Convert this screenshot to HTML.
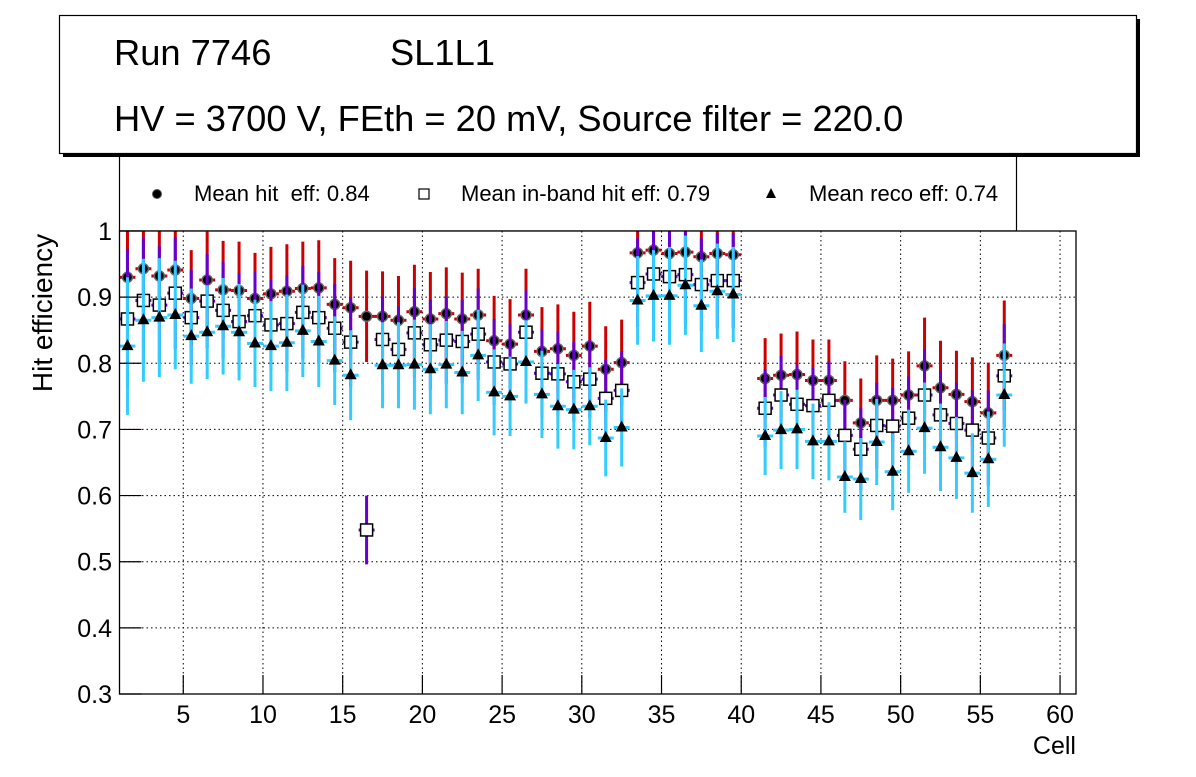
<!DOCTYPE html>
<html><head><meta charset="utf-8"><style>
body{margin:0;background:#fff;}
svg text{font-family:"Liberation Sans",sans-serif;fill:#000;white-space:pre;}
</style></head><body>
<svg id="chart" width="1196" height="772" viewBox="0 0 1196 772" xmlns="http://www.w3.org/2000/svg">
<rect x="0" y="0" width="1196" height="772" fill="#fff"/>
<g id="legend">
<rect x="119.5" y="140" width="897" height="91" fill="#fff" stroke="#000" stroke-width="1.2"/>
<g><circle cx="157" cy="194" r="4.5" fill="#000" stroke="#555" stroke-width="1"/><text x="194" y="201" font-size="22">Mean hit&#160; eff: 0.84</text></g>
<g><rect x="419" y="189" width="10" height="10" fill="#fff" stroke="#000" stroke-width="1.2"/><text x="461" y="201" font-size="22">Mean in-band hit eff: 0.79</text></g>
<g><polygon points="771,188 776,198 766,198" fill="#000"/><text x="809" y="201" font-size="22">Mean reco eff: 0.74</text></g>
</g>
<g>
<rect x="63" y="19" width="1077" height="138" fill="#000"/>
<rect x="59.5" y="15.5" width="1077" height="138" fill="#fff" stroke="#000" stroke-width="1.2"/>
<text x="114" y="65" font-size="36.3">Run 7746</text>
<text x="390" y="65" font-size="36.3">SL1L1</text>
<text x="114" y="131" font-size="36.3">HV = 3700 V, FEth = 20 mV, Source filter = 220.0</text>
</g>
<rect x="119.5" y="231" width="956.5" height="463" fill="#fff"/>
<g id="grid"></g>
<g id="marks"></g>
<rect x="119.5" y="231" width="956.5" height="463" fill="none" stroke="#000" stroke-width="1.3"/>
<g id="axes"></g>
<text x="1076" y="754" font-size="25" text-anchor="end">Cell</text>
<text transform="translate(52,313) rotate(-90)" font-size="28" text-anchor="middle">Hit efficiency</text>
</svg>
<script>
const cells = [1.5,2.5,3.5,4.5,5.5,6.5,7.5,8.5,9.5,10.5,11.5,12.5,13.5,14.5,15.5,16.5,17.5,18.5,19.5,20.5,21.5,22.5,23.5,24.5,25.5,26.5,27.5,28.5,29.5,30.5,31.5,32.5,33.5,34.5,35.5,36.5,37.5,38.5,39.5,41.5,42.5,43.5,44.5,45.5,46.5,47.5,48.5,49.5,50.5,51.5,52.5,53.5,54.5,55.5,56.5];
const hitEff = [0.930,0.943,0.932,0.941,0.898,0.926,0.911,0.910,0.898,0.905,0.909,0.913,0.914,0.889,0.884,0.871,0.871,0.865,0.878,0.867,0.875,0.867,0.873,0.834,0.829,0.873,0.818,0.822,0.812,0.826,0.791,0.801,0.967,0.971,0.966,0.968,0.961,0.966,0.964,0.777,0.782,0.783,0.774,0.774,0.744,0.710,0.744,0.744,0.752,0.796,0.763,0.753,0.742,0.725,0.812];
const hitErr = [0.072,0.072,0.072,0.072,0.073,0.073,0.074,0.074,0.069,0.071,0.071,0.071,0.072,0.070,0.071,0.069,0.068,0.067,0.071,0.071,0.070,0.070,0.070,0.068,0.068,0.070,0.067,0.067,0.066,0.067,0.065,0.065,0.060,0.060,0.060,0.060,0.060,0.060,0.060,0.061,0.063,0.065,0.062,0.062,0.059,0.067,0.068,0.063,0.066,0.073,0.071,0.066,0.067,0.076,0.083];
const bandEff = [0.867,0.895,0.888,0.906,0.869,0.894,0.880,0.863,0.872,0.858,0.860,0.877,0.869,0.853,0.832,0.548,0.836,0.821,0.846,0.828,0.835,0.833,0.844,0.802,0.799,0.847,0.785,0.784,0.772,0.776,0.747,0.759,0.922,0.935,0.931,0.934,0.919,0.925,0.925,0.732,0.752,0.738,0.736,0.744,0.691,0.670,0.706,0.705,0.717,0.752,0.722,0.709,0.699,0.687,0.781];
const bandErr = [0.105,0.094,0.089,0.084,0.072,0.071,0.073,0.073,0.066,0.068,0.073,0.070,0.069,0.067,0.068,0.052,0.065,0.065,0.068,0.068,0.066,0.063,0.069,0.065,0.060,0.063,0.066,0.064,0.060,0.059,0.058,0.059,0.067,0.069,0.074,0.075,0.070,0.072,0.072,0.059,0.059,0.060,0.057,0.059,0.054,0.062,0.065,0.058,0.063,0.069,0.066,0.062,0.060,0.072,0.078];
const recoEff = [0.826,0.865,0.869,0.873,0.841,0.847,0.856,0.847,0.830,0.826,0.831,0.849,0.833,0.804,0.782,null,0.797,0.797,0.798,0.791,0.798,0.786,0.812,0.756,0.750,0.802,0.753,0.735,0.730,0.735,0.687,0.703,0.895,0.902,0.902,0.918,0.887,0.909,0.904,0.690,0.699,0.700,0.682,0.682,0.628,0.625,0.681,0.636,0.667,0.702,0.673,0.657,0.634,0.655,0.752];
const recoErr = [0.104,0.093,0.090,0.082,0.072,0.071,0.073,0.073,0.066,0.068,0.073,0.070,0.069,0.067,0.068,0,0.065,0.065,0.068,0.068,0.066,0.063,0.069,0.065,0.060,0.063,0.066,0.064,0.060,0.059,0.058,0.059,0.067,0.069,0.074,0.075,0.070,0.072,0.072,0.059,0.059,0.060,0.057,0.059,0.054,0.062,0.065,0.058,0.063,0.069,0.066,0.062,0.060,0.072,0.078];
const xTicks = [5,10,15,20,25,30,35,40,45,50,55,60];
const yTicks = [0.3,0.4,0.5,0.6,0.7,0.8,0.9,1];
const yTickLabels = ["0.3","0.4","0.5","0.6","0.7","0.8","0.9","1"];

const NS = "http://www.w3.org/2000/svg";
const X0=119.5, X1=1076, Y0=231, Y1=694, XMIN=1, XMAX=61, YMIN=0.3, YMAX=1;
function xs(v){return X0+(v-XMIN)/(XMAX-XMIN)*(X1-X0);}
function ys(v){return Y1-(v-YMIN)/(YMAX-YMIN)*(Y1-Y0);}
function cl(y){return Math.max(Y0,Math.min(Y1,y));}
function mk(tag,attrs,parent){const e=document.createElementNS(NS,tag);for(const k in attrs)e.setAttribute(k,attrs[k]);parent.appendChild(e);return e;}
const grid=document.getElementById('grid'), axes=document.getElementById('axes'), marks=document.getElementById('marks');
xTicks.forEach(t=>{
  const g=mk('line',{x1:xs(t),x2:xs(t),y1:Y0,y2:Y1,stroke:'#000','stroke-width':1,'stroke-dasharray':'1.5,3'},grid);
  
  
  const tk=mk('line',{x1:xs(t),x2:xs(t),y1:Y1,y2:Y1-19,stroke:'#000','stroke-width':1.2},axes);
  
  
  const tx=mk('text',{x:xs(t),y:723,'font-size':25,'text-anchor':'middle'},axes);
  tx.textContent=t;
  
  
});
yTicks.forEach((t,i)=>{
  if(t>YMIN&&t<YMAX){
    const g=mk('line',{x1:X0,x2:X1,y1:ys(t),y2:ys(t),stroke:'#000','stroke-width':1,'stroke-dasharray':'1.5,3'},grid);
    
    
  }
  const tk=mk('line',{x1:X0,x2:X0+22,y1:ys(t),y2:ys(t),stroke:'#000','stroke-width':1.2},axes);
  
  
  const tx=mk('text',{x:112,y:ys(t)+9,'font-size':25,'text-anchor':'end'},axes);
  tx.textContent=yTickLabels[i];
  
  
});
function series(vals,errs,color,name,marker){
  const g=mk('g',{},marks);
  
  
  cells.forEach((c,i)=>{
    const v=vals[i]; if(v===null||v===undefined) return;
    const x=xs(c), y=ys(v), e=errs[i];
    mk('line',{x1:x,x2:x,y1:cl(ys(v+e)),y2:cl(ys(v-e)),stroke:color,'stroke-width':3},g);
    mk('line',{x1:xs(c-0.5),x2:xs(c+0.5),y1:y,y2:y,stroke:color,'stroke-width':3},g);
    let m;
    if(marker==='circle') m=mk('circle',{cx:x,cy:y,r:5,fill:'#000',stroke:'#666','stroke-width':1.5},g);
    else if(marker==='square') m=mk('rect',{x:x-6,y:y-6,width:12,height:12,fill:'#fff',stroke:'#000','stroke-width':1.5},g);
    else m=mk('polygon',{points:`${x},${y-7} ${x+6},${y+4} ${x-6},${y+4}`,fill:'#000'},g);
    
    
  });
}
series(hitEff,hitErr,'#cc0000','hit-eff','circle');
series(bandEff,bandErr,'#6600cc','inband-eff','square');
series(recoEff,recoErr,'#33ccff','reco-eff','triangle');
</script>
</body></html>
